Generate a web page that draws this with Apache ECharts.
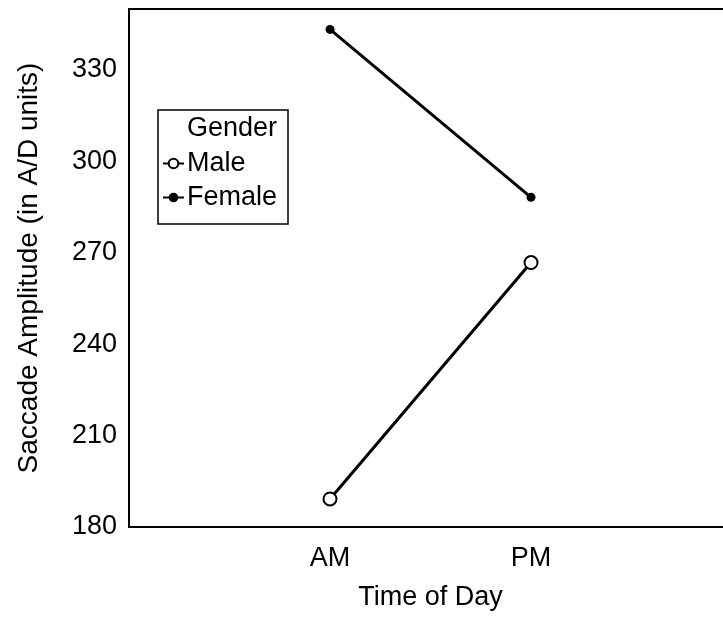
<!DOCTYPE html>
<html>
<head>
<meta charset="utf-8">
<style>
  html, body { margin: 0; padding: 0; background: #fff; }
  #chart { width: 723px; height: 617px; }
</style>
<script src="https://cdn.jsdelivr.net/npm/echarts@6/dist/echarts.min.js"></script>
</head>
<body>
<div id="chart"></div>
<script>
// Time of day categories, placed at positions 1 and 2 on the x axis
const timeOfDay = ['AM', 'PM'];
const maleAmplitude = [189.2, 266.8];
const femaleAmplitude = [343.3, 288.2];
const yTicks = [180, 210, 240, 270, 300, 330];

const FONT = 'Liberation Sans, Arial, Helvetica, sans-serif';

const toPoints = vals => vals.map((v, i) => [i + 1, v]);

const chart = echarts.init(document.getElementById('chart'), null, { renderer: 'canvas' });

// The plot frame runs off the right edge of the page, so the x range stops short of 3
const X_MAX = 2.955;

chart.setOption({
  animation: false,
  backgroundColor: '#fff',
  grid: { left: 129, top: 9, right: 0, bottom: 90, show: false },
  xAxis: [
    {
      type: 'value',
      min: 0, max: X_MAX, interval: 1,
      name: 'Time of Day',
      nameLocation: 'middle',
      nameGap: 57,
      nameTextStyle: { fontFamily: FONT, fontSize: 27, color: '#000', padding: [0, 0, 0, 9] },
      axisLine: { show: true, onZero: false, lineStyle: { color: '#000', width: 2 } },
      axisTick: { show: false },
      splitLine: { show: false },
      axisLabel: {
        fontFamily: FONT, fontSize: 27, color: '#000', margin: 18,
        showMaxLabel: false,
        formatter: v => timeOfDay[v - 1] || ''
      }
    },
    {
      // top frame line
      type: 'value',
      position: 'top',
      min: 0, max: X_MAX,
      axisLine: { show: true, onZero: false, lineStyle: { color: '#000', width: 2 } },
      axisTick: { show: false },
      axisLabel: { show: false },
      splitLine: { show: false }
    }
  ],
  yAxis: {
    type: 'value',
    min: yTicks[0], max: 350, interval: 30,
    name: 'Saccade Amplitude (in A/D units)',
    nameLocation: 'middle',
    nameGap: 86,
    nameTextStyle: { fontFamily: FONT, fontSize: 28, color: '#000' },
    axisLine: { show: true, lineStyle: { color: '#000', width: 2 } },
    axisTick: { show: false },
    splitLine: { show: false },
    axisLabel: {
      fontFamily: FONT, fontSize: 27, color: '#000', margin: 12,
      showMaxLabel: false,
      formatter: v => (yTicks.includes(v) ? String(v) : '')
    }
  },
  graphic: [
    {
      type: 'rect',
      shape: { x: 158, y: 110, width: 130, height: 114 },
      style: { fill: '#fff', stroke: '#000', lineWidth: 1.5 },
      z: 10
    },
    {
      type: 'text',
      x: 232, y: 129,
      style: {
        text: 'Gender', fontFamily: FONT, fontSize: 27, fill: '#000',
        align: 'center', verticalAlign: 'middle'
      },
      z: 11
    }
  ],
  legend: {
    orient: 'vertical',
    left: 162, top: 150,
    itemWidth: 21, itemHeight: 12, itemGap: 7,
    padding: 0,
    textStyle: { fontFamily: FONT, fontSize: 27, color: '#000', padding: [0, 0, 0, -2] },
    data: ['Male', 'Female'],
    z: 12
  },
  series: [
    {
      name: 'Male',
      type: 'line',
      data: toPoints(maleAmplitude),
      symbol: 'emptyCircle',
      symbolSize: 13,
      lineStyle: { color: '#000', width: 3 },
      itemStyle: { color: '#000', borderColor: '#000', borderWidth: 1.5 },
      z: 3
    },
    {
      name: 'Female',
      type: 'line',
      data: toPoints(femaleAmplitude),
      symbol: 'circle',
      symbolSize: 9,
      lineStyle: { color: '#000', width: 3 },
      itemStyle: { color: '#000' },
      z: 3
    }
  ]
});
</script>
</body>
</html>
